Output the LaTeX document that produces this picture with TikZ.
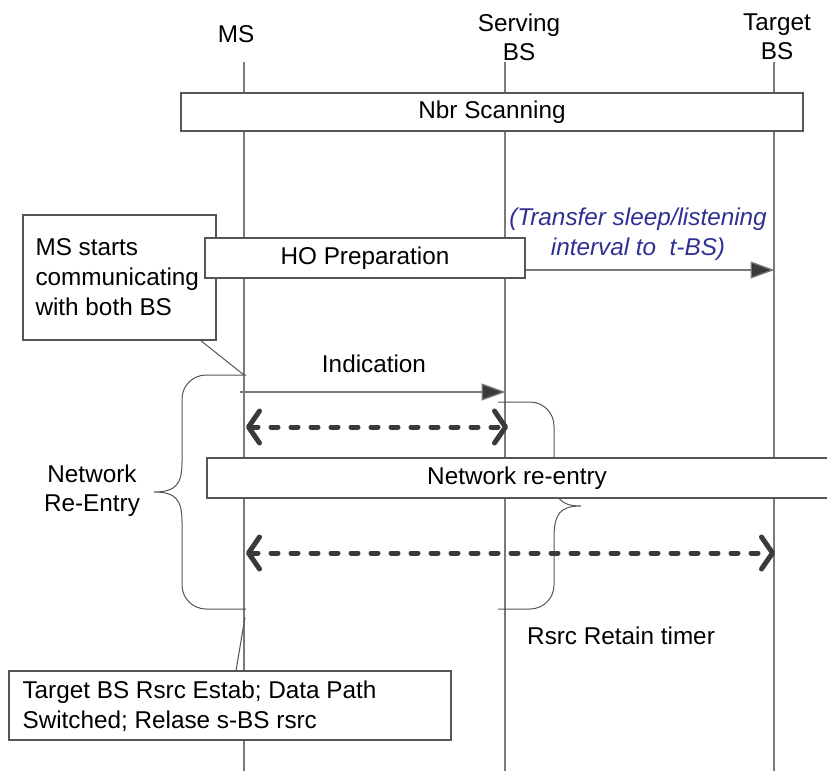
\documentclass[tikz,border=0pt]{standalone}
\usepackage{fontspec}
\setmainfont{Liberation Sans}
\usetikzlibrary{arrows.meta}

\definecolor{linegray}{HTML}{7A7A7A}
\definecolor{boxgray}{HTML}{555555}
\definecolor{dashgray}{HTML}{3A3A3C}
\definecolor{noteblue}{HTML}{2E3192}

\tikzset{
  lbl/.style={font=\fontsize{24.3}{29}\selectfont, inner sep=0pt, align=center},
  lifeline/.style={draw=linegray, line width=1.1pt},
  box/.style={draw=boxgray, fill=white, line width=1.1pt, inner sep=0pt,
              font=\fontsize{24.3}{29}\selectfont},
  notebox/.style={draw=boxgray, fill=white, line width=1.1pt, inner sep=0pt,
              font=\fontsize{24.3}{30}\selectfont},
  msg/.style={draw=linegray, line width=1.3pt,
              -{Triangle[length=24pt, width=17pt, fill=dashgray]}, shorten >=-0.5pt},
  bigdash/.style={draw=dashgray, line width=5pt, line cap=round,
              dash pattern=on 7pt off 13pt,
              {Straight Barb[length=11pt, width=32pt, line width=5pt, round]}-{Straight Barb[length=11pt, width=32pt, line width=5pt, round]}},
  brace/.style={draw=boxgray, line width=1pt},
  callout/.style={draw=boxgray, line width=1pt},
}

\begin{document}
\begin{tikzpicture}[x=1pt, y=-1pt]
\useasboundingbox (0,0) rectangle (827,771);
\fill[white] (0,0) rectangle (827,771);

% entity headers
\node[lbl] (ms)  at (236,34) {MS};
\node[lbl] (sbs) at (519,37) {Serving\\BS};
\node[lbl] (tbs) at (777,37) {Target\\BS};

% lifelines
\coordinate (msTop) at (244,62);   \coordinate (msBot) at (244,771);
\coordinate (sTop)  at (505,62);   \coordinate (sBot)  at (505,771);
\coordinate (tTop)  at (774,62);   \coordinate (tBot)  at (774,771);
\draw[lifeline] (msTop) -- (msBot);
\draw[lifeline] (sTop) -- (sBot);
\draw[lifeline] (tTop) -- (tBot);

% neighbour scanning phase
\node[box, minimum width=622pt, minimum height=38pt] (nbr) at (492,112) {Nbr Scanning};

% note on dual communication
\node[notebox, minimum width=193pt, minimum height=125pt] (note1) at (119.5,277.5) {};
\node[notebox, draw=none, fill=none, anchor=north west, align=left] (note1txt) at (35,238)
  {MS starts\\communicating\\with both BS};

% handover preparation
\node[box, minimum width=320pt, minimum height=40pt] (hop) at (365,258) {HO Preparation};
\coordinate (tArr1) at (774,270);
\draw[msg] (hop.east |- tArr1) -- (tArr1);
\node[lbl, text=noteblue, font=\fontsize{24.3}{30}\selectfont\itshape] (xfer) at (638,234)
  {(Transfer sleep/listening\\interval to\ \ t-BS)};

% callout from note to MS lifeline
\coordinate (c1) at (244,375);
\draw[callout] (200,340) -- (c1);

% indication message
\coordinate (indA) at (240,392);
\coordinate (indB) at (505,392);
\draw[msg] (indA) -- (indB);
\node[lbl] (ind) at (374,364) {Indication};

% resource retain timer brace (partly behind re-entry box)
\draw[brace] (498,402) -- (530,402) arc[start angle=90, end angle=0, radius=24pt]
  -- (554,474) .. controls (554,498) and (560,506) .. (581,506)
  .. controls (560,506) and (554,514) .. (554,538)
  -- (554,585) arc[start angle=0, end angle=-90, radius=24pt] -- (498,609);

% first bidirectional exchange
\coordinate (d1a) at (246,427);
\coordinate (d1b) at (508,427);
\draw[bigdash] (d1a) -- (d1b);

% network re-entry phase
\draw[box] (207,458) rectangle (835,498);
\node[lbl] (nre) at (517,478) {Network re-entry};

% second bidirectional exchange
\coordinate (d2a) at (246,553);
\coordinate (d2b) at (775,553);
\draw[bigdash] (d2a) -- (d2b);

% network re-entry brace
\draw[brace] (246,375) -- (206,375) arc[start angle=90, end angle=180, radius=24pt]
  -- (182,462) .. controls (182,484) and (176,492) .. (154,492)
  .. controls (176,492) and (182,500) .. (182,522)
  -- (182,585) arc[start angle=180, end angle=270, radius=24pt] -- (246,609);
\node[lbl] (nreLbl) at (92,491) {Network\\Re-Entry};

\node[lbl, anchor=west] (rrt) at (527,636) {Rsrc Retain timer};

% final note
\coordinate (c2) at (245,617);
\node[notebox, minimum width=442pt, minimum height=69pt] (note2) at (230,705.5) {};
\node[notebox, draw=none, fill=none, anchor=north west, align=left] (note2txt) at (22,680)
  {Target BS Rsrc Estab; Data Path\\Switched; Relase s-BS rsrc};
\draw[callout] (c2) -- (236,671);
\end{tikzpicture}
\end{document}
